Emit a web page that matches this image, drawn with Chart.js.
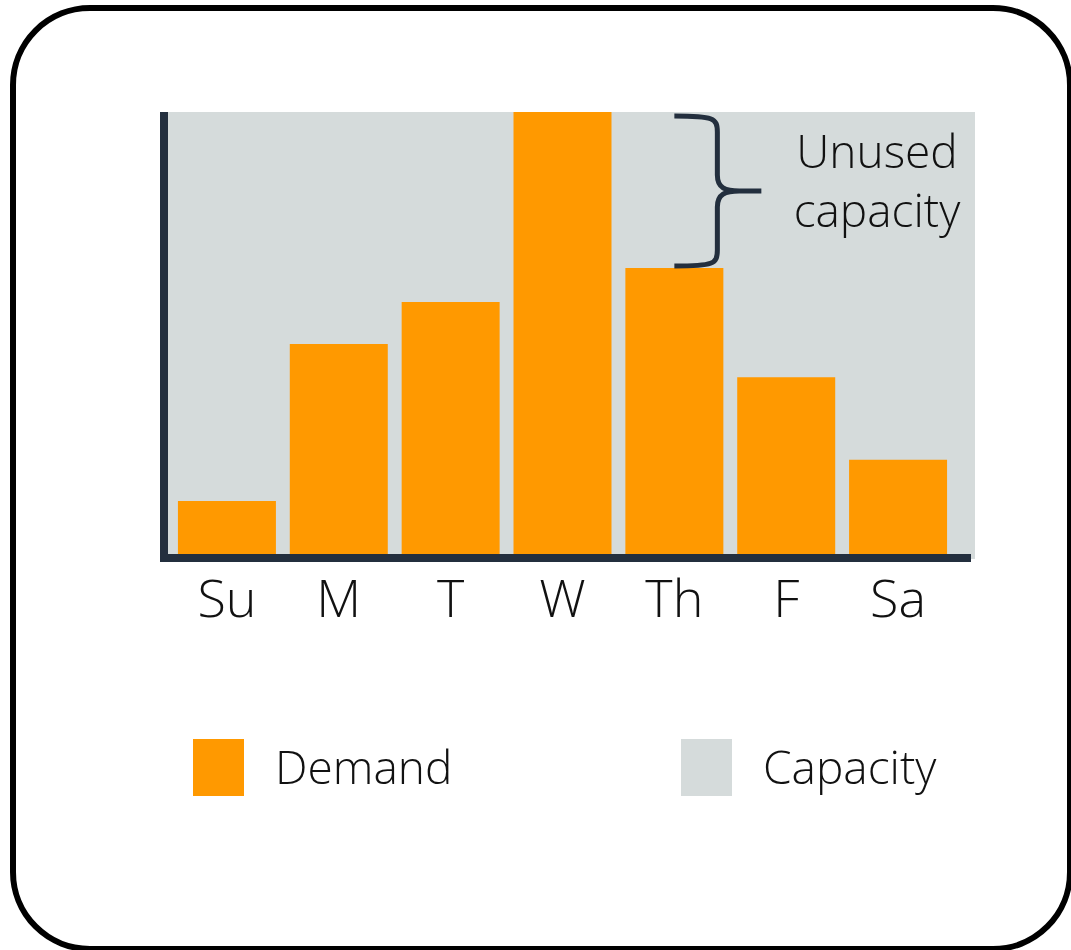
<!DOCTYPE html>
<html>
<head>
<meta charset="utf-8">
<title>Demand vs capacity</title>
<script src="https://cdn.jsdelivr.net/npm/chart.js@4.4.1/dist/chart.umd.min.js"></script>
<style>
  html, body { margin: 0; padding: 0; background: #fff; overflow: hidden; }
  #wrap { position: relative; width: 1071px; height: 950px; }
  #frame { position: absolute; left: 10px; top: 5px; width: 1063px; height: 947px; box-sizing: border-box;
           border: 6px solid #000; border-radius: 80px; }
  #chart { position: absolute; left: 0; top: 0; }
  #legend { position: absolute; left: 0; top: 0; width: 100%; font-family: "Open Sans", "Noto Sans", sans-serif; font-weight: 300; }
  .item { position: absolute; top: 739px; height: 57px; }
  .box { position: absolute; left: 0; top: 0; width: 51px; height: 57px; }
  .lbl { position: absolute; left: 82px; top: -5px; font-size: 46px; line-height: 64px; color: #111; white-space: nowrap; }
</style>
</head>
<body>
<div id="wrap">
  <div id="frame"></div>
  <canvas id="chart" width="1071" height="950"></canvas>
  <div id="legend"></div>
</div>
<script>
const DAYS = ['Su', 'M', 'T', 'W', 'Th', 'F', 'Sa'];
const DEMAND = [12, 47.5, 57, 100, 64.7, 40, 21.3];
const CAPACITY = 100;
const LEGEND = ['Demand', 'Capacity'];
const NOTE = ['Unused', 'capacity'];

const ORANGE = '#FF9900';
const GREY = '#D5DBDB';
const NAVY = '#232F3E';
const FONT = '"Open Sans", "Noto Sans", sans-serif';

// grey capacity field, axis lines and the "unused capacity" brace
const decor = {
  id: 'decor',
  beforeDatasetsDraw(chart) {
    const { ctx, chartArea: a, scales: { y } } = chart;
    const top = y.getPixelForValue(CAPACITY);
    ctx.save();
    ctx.fillStyle = GREY;
    ctx.fillRect(a.left - 11, top, a.right - a.left + 32, a.bottom - top + 5);
    ctx.restore();
  },
  afterDatasetsDraw(chart) {
    const { ctx, chartArea: a, scales: { x, y } } = chart;
    const top = y.getPixelForValue(CAPACITY);
    ctx.save();
    ctx.fillStyle = NAVY;
    ctx.fillRect(a.left - 11, top, 8, a.bottom - top + 8);
    ctx.fillRect(a.left - 11, a.bottom, a.right - a.left + 28, 8);

    // brace between the peak and Thursday
    const peak = DEMAND.indexOf(Math.max(...DEMAND));
    const yt = y.getPixelForValue(DEMAND[peak]) + 4;
    const yb = y.getPixelForValue(DEMAND[4]) - 2;
    const ym = (yt + yb) / 2;
    const x0 = x.getPixelForValue(4);
    const xm = x0 + 43, tip = x0 + 87;
    ctx.strokeStyle = NAVY;
    ctx.lineWidth = 5;
    ctx.beginPath();
    ctx.moveTo(x0, yt);
    ctx.bezierCurveTo(xm - 4, yt, xm, yt + 2, xm, yt + 16);
    ctx.lineTo(xm, ym - 16);
    ctx.bezierCurveTo(xm, ym - 3, xm + 8, ym, xm + 22, ym);
    ctx.lineTo(tip, ym);
    ctx.moveTo(xm + 22, ym);
    ctx.bezierCurveTo(xm + 8, ym, xm, ym + 3, xm, ym + 16);
    ctx.lineTo(xm, yb - 16);
    ctx.bezierCurveTo(xm, yb - 2, xm - 4, yb, x0, yb);
    ctx.stroke();

    ctx.fillStyle = '#111';
    ctx.font = '300 46px ' + FONT;
    ctx.textAlign = 'center';
    ctx.textBaseline = 'alphabetic';
    ctx.fillText(NOTE[0], 877, 168);
    ctx.fillText(NOTE[1], 877, 227);
    ctx.restore();
  }
};

const chart = new Chart(document.getElementById('chart'), {
  type: 'bar',
  data: {
    labels: DAYS,
    datasets: [{ label: LEGEND[0], data: DEMAND, backgroundColor: ORANGE, borderWidth: 0,
                 barPercentage: 0.876, categoryPercentage: 1 }]
  },
  options: {
    responsive: false,
    animation: false,
    layout: { padding: { left: 171, right: 117, top: 112, bottom: 0 } },
    plugins: { legend: { display: false }, tooltip: { enabled: false } },
    scales: {
      x: {
        grid: { display: false }, border: { display: false },
        ticks: { color: '#111', font: { family: FONT, size: 52, weight: 300 }, padding: 9 },
        afterFit: s => { s.height = 396; }
      },
      y: { display: false, min: 0, max: CAPACITY }
    }
  },
  plugins: [decor]
});

// legend below the plot
const legendEl = document.getElementById('legend');
[[LEGEND[0], ORANGE, 193], [LEGEND[1], GREY, 681]].forEach(([text, color, left]) => {
  const item = document.createElement('div'); item.className = 'item'; item.style.left = left + 'px';
  const box = document.createElement('div'); box.className = 'box'; box.style.background = color;
  const lbl = document.createElement('div'); lbl.className = 'lbl'; lbl.textContent = text;
  item.appendChild(box); item.appendChild(lbl); legendEl.appendChild(item);
});
</script>
</body>
</html>
